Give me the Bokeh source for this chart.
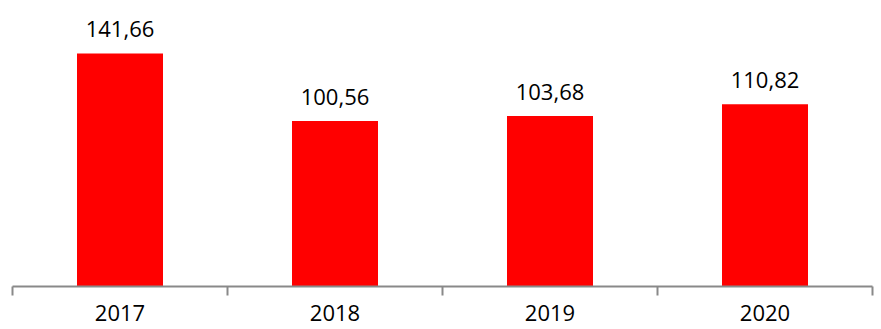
from bokeh.plotting import figure
from bokeh.models import ColumnDataSource, FixedTicker, LabelSet, Range1d
from bokeh.core.properties import value
from bokeh.embed import file_html
from bokeh.resources import INLINE

years = ["2017", "2018", "2019", "2020"]
values = [141.66, 100.56, 103.68, 110.82]

xs = [i + 0.5 for i in range(len(years))]
labels = [f"{v:.2f}".replace(".", ",") for v in values]
src = ColumnDataSource(dict(x=xs, top=values, label=labels))

FONT = "Open Sans"

p = figure(width=881, height=329, output_backend="svg", toolbar_location=None,
           x_range=Range1d(0, len(years)), y_range=Range1d(0, 169),
           min_border_left=12, min_border_right=9, min_border_top=8, min_border_bottom=43)
p.outline_line_color = None
p.background_fill_color = "white"
p.border_fill_color = "white"
p.xgrid.visible = False
p.ygrid.visible = False
p.yaxis.visible = False

p.vbar(x="x", top="top", width=0.4, bottom=0, source=src, color="#ff0000", line_color=None)

p.add_layout(LabelSet(x="x", y="top", text="label", source=src, y_offset=16,
                      text_align="center", text_baseline="alphabetic",
                      text_font=value(FONT), text_font_size=value("22px"),
                      text_color="#000000"))

ax = p.xaxis[0]
ax.ticker = FixedTicker(ticks=xs, minor_ticks=list(range(len(years) + 1)))
ax.major_label_overrides = {x: y for x, y in zip(xs, years)}
ax.axis_line_color = "#898989"
ax.axis_line_width = 2
ax.major_tick_out = 0
ax.major_tick_in = 0
ax.minor_tick_out = 9
ax.minor_tick_in = 0
ax.minor_tick_line_color = "#898989"
ax.minor_tick_line_width = 2
ax.major_label_standoff = 9
ax.major_label_text_font = FONT
ax.major_label_text_font_size = "22px"
ax.major_label_text_color = "#000000"

open("out.html", "w").write(file_html(p, INLINE))
